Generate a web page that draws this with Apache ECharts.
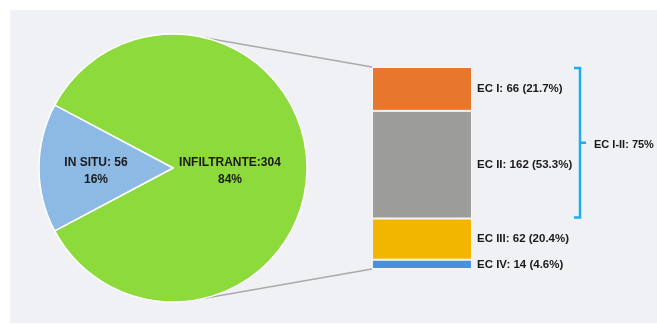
<!DOCTYPE html>
<html>
<head>
<meta charset="utf-8">
<script src="https://cdn.jsdelivr.net/npm/echarts@6/dist/echarts.min.js"></script>
<style>
  html, body { margin: 0; padding: 0; background: #fff; }
  #main { width: 657px; height: 325px; }
</style>
</head>
<body>
<div id="main"></div>
<script>
var pieNames = ['INFILTRANTE', 'IN SITU'];
var pieValues = [304, 56];
var pieColors = ['#8dda3c', '#8db9e5'];

var ecNames = ['EC I', 'EC II', 'EC III', 'EC IV'];
var ecValues = [66, 162, 62, 14];
var ecColors = ['#e8762c', '#9c9d9b', '#f2b600', '#4a90dc'];
var bracketName = 'EC I-II';
var bracketSpan = [0, 2]; // EC I .. EC II

var chart = echarts.init(document.getElementById('main'));
var ecTotal = ecValues.reduce(function (a, b) { return a + b; }, 0);
var labelFont = 'Liberation Sans Narrow, Arial Narrow, sans-serif';

var pieCenter = [173, 168], pieRadius = 134;

var barSeries = ecNames.map(function (n, i) {
  return {
    name: n,
    type: 'bar',
    stack: 'ec',
    barWidth: '100%',
    data: [ecValues[i]],
    itemStyle: { color: ecColors[i], borderColor: '#f4f5f6', borderWidth: 1 },
    label: {
      show: true,
      position: 'right',
      distance: 5,
      color: '#1a1a1a',
      fontWeight: 'bold',
      fontSize: 11.5,
      fontFamily: labelFont,
      formatter: function (p) {
        return p.seriesName + ': ' + p.value + ' (' + (p.value / ecTotal * 100).toFixed(1) + '%)';
      }
    }
  };
});

var bracketStart = 0, bracketEnd = 0;
ecValues.forEach(function (v, i) {
  if (i < bracketSpan[0]) bracketStart += v;
  if (i < bracketSpan[1]) bracketEnd += v;
});
var bracketPct = Math.round((bracketEnd - bracketStart) / ecTotal * 100);

var option = {
  animation: false,
  grid: { left: 372, top: 67, width: 100, height: 202 },
  xAxis: { type: 'category', data: ['EC'], show: false },
  yAxis: { type: 'value', min: 0, max: ecTotal, inverse: true, show: false },
  graphic: [
    { type: 'rect', z: -10, shape: { x: 10, y: 10, width: 647, height: 313 }, style: { fill: '#f0f1f4' } }
  ],
  series: [
    {
      type: 'pie',
      center: pieCenter,
      radius: pieRadius,
      startAngle: 152,
      clockwise: true,
      z: 5,
      label: {
        show: true,
        position: 'inside',
        color: '#1a1a1a',
        fontWeight: 'bold',
        fontSize: 12,
        fontFamily: labelFont,
        lineHeight: 17
      },
      labelLine: { show: false },
      itemStyle: { borderColor: '#ffffff', borderWidth: 1.5 },
      data: pieNames.map(function (n, i) {
        var pct = Math.round(pieValues[i] / (pieValues[0] + pieValues[1]) * 100);
        return {
          name: n,
          value: pieValues[i],
          itemStyle: { color: pieColors[i] },
          label: {
            formatter: n + (i === 0 ? ':' : ': ') + pieValues[i] + '\n' + pct + '%',
            offset: [i === 0 ? -13 : -7, 3]
          }
        };
      })
    }
  ].concat(barSeries).concat([
    {
      type: 'custom',
      name: bracketName,
      data: [[0, bracketStart, bracketEnd]],
      z: 3,
      renderItem: function (params, api) {
        var top = api.coord([0, api.value(1)]);
        var bot = api.coord([0, api.value(2)]);
        var x = top[0] + 158;
        var mid = (top[1] + bot[1]) / 2;
        var st = { stroke: '#1aaef0', lineWidth: 2.5, fill: null };
        return {
          type: 'group',
          children: [
            { type: 'polyline', shape: { points: [[x - 6, top[1] + 1], [x, top[1] + 1], [x, bot[1] - 1], [x - 6, bot[1] - 1]] }, style: st },
            { type: 'line', shape: { x1: x, y1: mid, x2: x + 6, y2: mid }, style: st },
            {
              type: 'text',
              style: {
                x: x + 14, y: mid + 2,
                text: bracketName + ': ' + bracketPct + '%',
                fill: '#1a1a1a',
                font: 'bold 11px ' + labelFont,
                verticalAlign: 'middle'
              }
            }
          ]
        };
      }
    }
  ])
};

chart.setOption(option);

// connector lines from the pie edge to the stacked bar corners
var a = 77 * Math.PI / 180;
var pTop = [pieCenter[0] + pieRadius * Math.cos(a), pieCenter[1] - pieRadius * Math.sin(a)];
var pBot = [pieCenter[0] + pieRadius * Math.cos(a), pieCenter[1] + pieRadius * Math.sin(a)];
var barTop = chart.convertToPixel({ gridIndex: 0 }, [0, 0]);
var barBot = chart.convertToPixel({ gridIndex: 0 }, [0, ecTotal]);
var barLeft = barTop[0] - 50;
chart.setOption({
  graphic: [
    { type: 'rect', z: -10, shape: { x: 10, y: 10, width: 647, height: 313 }, style: { fill: '#f0f1f4' } },
    { type: 'line', z: 1, shape: { x1: pTop[0], y1: pTop[1], x2: barLeft, y2: barTop[1] }, style: { stroke: '#aaaaaa', lineWidth: 1.5 } },
    { type: 'line', z: 1, shape: { x1: pBot[0], y1: pBot[1], x2: barLeft, y2: barBot[1] }, style: { stroke: '#aaaaaa', lineWidth: 1.5 } }
  ]
});
</script>
</body>
</html>
